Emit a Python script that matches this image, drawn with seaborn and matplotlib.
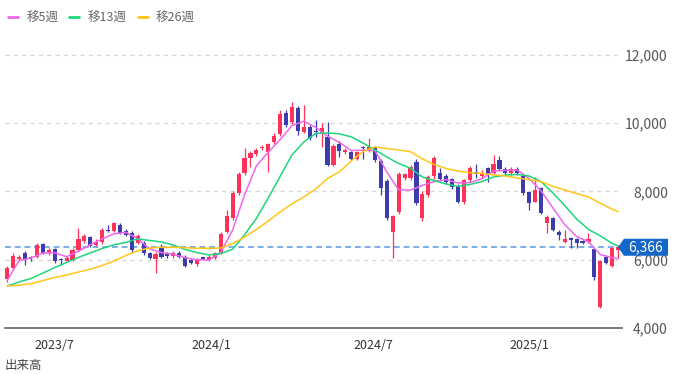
import numpy as np
import matplotlib
matplotlib.use("Agg")
import matplotlib.pyplot as plt
import matplotlib.transforms as mtransforms
from matplotlib.patches import Polygon
from matplotlib.lines import Line2D
import seaborn as sns

# weekly candles, 2023/5/8 .. 2025/4/28
opens = [5440, 5760, 6010, 6210, 6070, 6090, 6460, 6190, 6320, 6010,
         5970, 6000, 6290, 6550, 6660, 6430, 6530, 6860, 6850, 7020,
         6850, 6790, 6500, 6500, 6200, 6020, 6380, 6200, 6110, 6200,
         6090, 5990, 5870, 6050, 5990, 6040, 6190, 6820, 7210, 7950,
         8530, 8970, 9090, 9270, 9170, 9460, 9680, 10290, 10030, 10440,
         9740, 9900, 9750, 9700, 9610, 8780, 9380, 9150, 9150, 8950,
         9280, 9190, 9270, 8890, 8310, 6820, 7410, 8390, 8390, 8860,
         7220, 7900, 8440, 8530, 8450, 8360, 8150, 7680, 8340, 8540,
         8450, 8680, 8530, 8920, 8650, 8530, 8650, 8450, 7990, 7700,
         8090, 7070, 7210, 6820, 6530, 6630, 6600, 6550, 6530, 6310,
         4620, 6070, 5820, 6290]
highs = [5820, 6200, 6150, 6270, 6100, 6500, 6500, 6350, 6350, 6040,
         6110, 6350, 6930, 6760, 6700, 6600, 6930, 7020, 7100, 7080,
         6900, 6850, 6760, 6550, 6230, 6230, 6460, 6230, 6260, 6260,
         6140, 6020, 6040, 6080, 6140, 6230, 6810, 7460, 8010, 8570,
         9270, 9190, 9270, 9360, 9430, 9700, 10390, 10380, 10630, 10500,
         10540, 9950, 10100, 10000, 10050, 9390, 9470, 9270, 9180, 9180,
         9330, 9580, 9330, 8950, 8370, 7300, 8570, 8540, 8770, 8950,
         8000, 8480, 9030, 8680, 8510, 8390, 8210, 8360, 8740, 8800,
         8620, 8720, 9070, 9040, 8710, 8710, 8710, 8510, 8020, 8430,
         8130, 7310, 7240, 6870, 6870, 6660, 6640, 6580, 6790, 6340,
         6000, 6140, 6370, 6430]
lows = [5350, 5700, 5950, 5850, 5950, 6060, 6170, 6150, 5900, 5850,
        5940, 5970, 6260, 6490, 6370, 6400, 6470, 6810, 6810, 6750,
        6700, 6190, 6470, 6130, 6020, 5610, 6050, 6050, 6050, 6050,
        5790, 5880, 5820, 6010, 5960, 6010, 6160, 6770, 7150, 7890,
        8470, 8730, 9030, 9210, 8560, 9400, 9620, 9890, 9980, 9660,
        9700, 9500, 9600, 9310, 8750, 8750, 9020, 9100, 8920, 8920,
        8940, 9160, 8860, 7900, 7150, 6040, 7350, 8330, 8330, 7600,
        7130, 7850, 8380, 8300, 8230, 8070, 7650, 7620, 8280, 8390,
        8390, 8290, 8500, 8620, 8470, 8470, 8470, 7900, 7460, 7680,
        7330, 6780, 6840, 6580, 6500, 6340, 6340, 6450, 6500, 5410,
        4590, 5880, 5790, 6040]
closes = [5760, 6110, 6090, 5990, 6050, 6430, 6210, 6290, 5950, 5990,
          6060, 6290, 6600, 6710, 6400, 6530, 6870, 6840, 7070, 6780,
          6720, 6290, 6700, 6190, 6050, 6170, 6090, 6110, 6200, 6090,
          5820, 5910, 6010, 6030, 6090, 6190, 6750, 7280, 7950, 8510,
          8970, 9120, 9210, 9310, 9380, 9640, 10260, 9950, 10490, 9760,
          9900, 9580, 9730, 9850, 8780, 9340, 9190, 9210, 8950, 9150,
          9260, 9310, 8920, 8090, 7210, 7280, 8500, 8500, 8710, 7660,
          7930, 8430, 8970, 8360, 8290, 8130, 7700, 8330, 8680, 8520,
          8550, 8480, 8810, 8650, 8530, 8650, 8530, 7960, 7650, 8040,
          7380, 7240, 6870, 6720, 6600, 6580, 6480, 6480, 6600, 5490,
          5970, 5910, 6340, 6366]

# moving averages read every other week
ma_weeks = list(range(0, 103, 2)) + [103]
ma5 = [5400, 5980, 6050, 6200, 6200, 6090, 6250, 6440, 6610, 6760,
       6800, 6620, 6320, 6210, 6160, 6060, 6000, 5990, 6220, 6870,
       7900, 8750, 9150, 9520, 9930, 10060, 9880, 9620, 9440, 9200,
       9210, 9200, 8570, 8050, 8040, 8180, 8290, 8350, 8250, 8260,
       8370, 8600, 8620, 8630, 8380, 8020, 7520, 7030, 6680, 6530,
       6150, 6060, 6030]
ma13 = [5230, 5350, 5450, 5610, 5770, 5920, 6070, 6200, 6330, 6440,
        6510, 6610, 6565, 6520, 6430, 6300, 6210, 6140, 6180, 6310,
        6730, 7210, 7810, 8440, 9070, 9450, 9700, 9715, 9690, 9600,
        9420, 9220, 9010, 8820, 8680, 8425, 8320, 8220, 8150, 8205,
        8290, 8425, 8480, 8500, 8455, 8290, 7960, 7590, 7195, 6890,
        6700, 6480, 6400]
ma26 = [5230, 5255, 5300, 5390, 5480, 5555, 5640, 5725, 5830, 5965,
        6125, 6265, 6345, 6365, 6365, 6355, 6335, 6335, 6345, 6475,
        6665, 6885, 7135, 7400, 7635, 7840, 8075, 8380, 8580, 8895,
        9170, 9305, 9260, 9215, 9165, 8955, 8790, 8675, 8600, 8550,
        8530, 8485, 8455, 8395, 8350, 8290, 8150, 8045, 7940, 7840,
        7655, 7480, 7410]

tick_weeks = [8.0, 34.5, 61.7, 88.1]
tick_labels = ["2023/7", "2024/1", "2024/7", "2025/1"]
price_ticks = [4000, 6000, 8000, 10000, 12000]
last_price = 6366
legend_labels = ["移5週", "移13週", "移26週"]

UP = "#ff3259"
DOWN = "#3c3cad"
MA_COLORS = ["#ef66ef", "#1fd67a", "#ffc619"]

sns.set_theme(style="white")
plt.rcParams["font.family"] = ["Noto Sans CJK JP", "DejaVu Sans"]

fig = plt.figure(figsize=(6.96, 3.74), dpi=100)
ax = fig.add_axes([5 / 696, 46 / 374, 617 / 696, 288 / 374])

# gridlines and current price line
for t in price_ticks[1:]:
    ax.axhline(t, color="#d8d8d8", lw=1.0, ls=(0, (3, 3)), zorder=0)
ax.axhline(last_price, color="#7aaee8", lw=1.4, ls=(0, (3, 2)), zorder=1)

# candles
x = np.arange(len(closes))
o = np.array(opens)
c = np.array(closes)
cols = np.where(c >= o, UP, DOWN)
ax.vlines(x, lows, highs, colors=cols, lw=0.9, zorder=2)
ax.bar(x, np.maximum(np.abs(c - o), 45), bottom=np.minimum(o, c), width=0.7,
       color=cols, lw=0, zorder=3)

# moving averages
for vals, col in zip([ma5, ma13, ma26], MA_COLORS):
    sns.lineplot(x=ma_weeks, y=vals, color=col, lw=1.1, ax=ax, legend=False, zorder=4)

ax.set_xlim(-0.39, 103.66)
ax.set_ylim(4000, 12439)

for s in ["top", "left", "right"]:
    ax.spines[s].set_visible(False)
ax.spines["bottom"].set_color("#707070")
ax.spines["bottom"].set_linewidth(1.3)

ax.yaxis.tick_right()
ax.set_yticks(price_ticks, [f"{v:,}" for v in price_ticks])
ax.tick_params(axis="y", length=0, pad=33, labelsize=10, labelcolor="#555555")
for lab in ax.get_yticklabels():
    lab.set_ha("right")
ax.set_xticks(tick_weeks, tick_labels)
ax.tick_params(axis="x", length=0, pad=8, labelsize=9, labelcolor="#333333")
ax.set_xlabel("")
ax.set_ylabel("")

# price tag
trans = mtransforms.blended_transform_factory(ax.transAxes, ax.transData)
h = 249
tag = Polygon([(0.9935, last_price), (1.0032, last_price + h), (1.0746, last_price + h),
               (1.0746, last_price - h), (1.0032, last_price - h)],
              closed=True, transform=trans, clip_on=False, fc="#1466c8", ec="none", zorder=6)
ax.add_patch(tag)
ax.text(1.039, last_price, f"{last_price:,}", transform=trans, ha="center", va="center",
        color="white", fontsize=10, zorder=7, clip_on=False)

# legend
handles = [Line2D([0], [0], color=col, lw=2) for col in MA_COLORS]
fig.legend(handles, legend_labels, loc="center left", bbox_to_anchor=(8 / 696, 1 - 18 / 374),
           ncol=3, frameon=False, fontsize=9, labelcolor="#666666", handlelength=0.8,
           handletextpad=0.67, columnspacing=0.88, borderpad=0, borderaxespad=0)

fig.text(5 / 696, 2 / 374, "出来高", ha="left", va="bottom", fontsize=9, color="#444444")

fig.savefig("out.png", dpi=100)
